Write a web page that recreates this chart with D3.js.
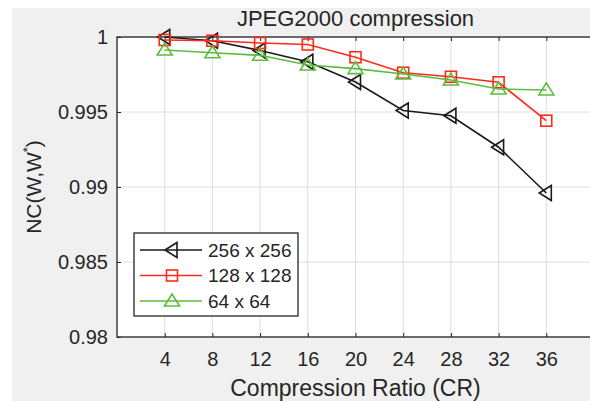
<!DOCTYPE html>
<html>
<head>
<meta charset="utf-8">
<script src="https://cdn.jsdelivr.net/npm/d3@7"></script>
<style>
  body { margin: 0; background: #fff; }
  text { font-family: "Liberation Sans", Arial, sans-serif; fill: #262626; }
</style>
</head>
<body>
<div id="chart"></div>
<script>
const ratios = [4, 8, 12, 16, 20, 24, 28, 32, 36];
const nc256 = [1.0000, 0.99975, 0.9991, 0.99835, 0.9970, 0.9951, 0.99475, 0.99265, 0.9896];
const nc128 = [0.9998, 0.99975, 0.9996, 0.9995, 0.99865, 0.99762, 0.99735, 0.99698, 0.99442];
const nc64 = [0.99913, 0.99895, 0.99878, 0.99813, 0.99789, 0.99753, 0.99713, 0.99653, 0.99647];
const seriesNames = ["256 x 256", "128 x 128", "64 x 64"];
const yTicks = [0.98, 0.985, 0.99, 0.995, 1];

const W = 590, H = 401;
const pLeft = 117, pRight = 594, pTop = 37, pBottom = 337;

const svg = d3.select("#chart").append("svg")
  .attr("width", W).attr("height", H);

svg.append("rect").attr("x", 12).attr("y", 8)
  .attr("width", W - 12).attr("height", H - 8).attr("fill", "#f0f0f0");

const x = d3.scaleLinear().domain([0, 40]).range([pLeft, pRight]);
const y = d3.scaleLinear().domain([0.98, 1]).range([pBottom, pTop]);

svg.append("rect").attr("x", pLeft).attr("y", pTop)
  .attr("width", pRight - pLeft).attr("height", pBottom - pTop).attr("fill", "#fff");

// grid
svg.append("g").selectAll("line").data(ratios).join("line")
  .attr("x1", d => x(d)).attr("x2", d => x(d))
  .attr("y1", pTop).attr("y2", pBottom)
  .attr("stroke", "#dedede").attr("stroke-width", 1);
svg.append("g").selectAll("line").data(yTicks).join("line")
  .attr("x1", pLeft).attr("x2", pRight)
  .attr("y1", d => y(d)).attr("y2", d => y(d))
  .attr("stroke", "#dedede").attr("stroke-width", 1);

// axes
const xAxis = svg.append("g").attr("transform", `translate(0,${pBottom})`)
  .call(d3.axisBottom(x).tickValues(ratios).tickSizeInner(-4).tickSizeOuter(0).tickPadding(15));
const xAxisTop = svg.append("g").attr("transform", `translate(0,${pTop})`)
  .call(d3.axisTop(x).tickValues(ratios).tickSizeInner(-4).tickSizeOuter(0).tickFormat(""));
const yAxis = svg.append("g").attr("transform", `translate(${pLeft},0)`)
  .call(d3.axisLeft(y).tickValues(yTicks).tickFormat(d => d3.format("")(+d.toFixed(3)))
    .tickSizeInner(-4).tickSizeOuter(0).tickPadding(9));
const yAxisRight = svg.append("g").attr("transform", `translate(${pRight},0)`)
  .call(d3.axisRight(y).tickValues(yTicks).tickSizeInner(-4).tickSizeOuter(0).tickFormat(""));

[xAxis, xAxisTop, yAxis, yAxisRight].forEach(g => {
  g.select(".domain").remove();
  g.selectAll("line").attr("stroke", "#262626");
  g.selectAll("text").style("font-size", "20px").attr("fill", "#262626");
});
xAxis.selectAll("text").attr("dy", "0.71em");

svg.append("rect").attr("x", pLeft).attr("y", pTop)
  .attr("width", pRight - pLeft).attr("height", pBottom - pTop)
  .attr("fill", "none").attr("stroke", "#262626").attr("stroke-width", 1.3);

// series
const series = [
  { name: seriesNames[0], values: nc256, color: "#1a1a1a", marker: "left" },
  { name: seriesNames[1], values: nc128, color: "#ff2a1a", marker: "square" },
  { name: seriesNames[2], values: nc64, color: "#5cbd3c", marker: "up" }
];

const line = d3.line().x((d, i) => x(ratios[i])).y(d => y(d));

function marker(g, type, color) {
  if (type === "square") {
    g.append("rect").attr("x", -5.5).attr("y", -5.5).attr("width", 11).attr("height", 11)
      .attr("fill", "none").attr("stroke", color).attr("stroke-width", 1.6);
  } else if (type === "up") {
    g.append("path").attr("d", "M0,-7L7.5,5L-7.5,5Z")
      .attr("fill", "none").attr("stroke", color).attr("stroke-width", 1.6);
  } else {
    g.append("path").attr("d", "M-7,0L5,-7.5L5,7.5Z")
      .attr("fill", "none").attr("stroke", color).attr("stroke-width", 1.6);
  }
}

series.forEach(s => {
  svg.append("path").datum(s.values)
    .attr("d", line).attr("fill", "none")
    .attr("stroke", s.color).attr("stroke-width", 1.6);
  svg.append("g").selectAll("g").data(s.values).join("g")
    .attr("transform", (d, i) => `translate(${x(ratios[i])},${y(d)})`)
    .each(function () { marker(d3.select(this), s.marker, s.color); });
});

// title and labels
svg.append("text").attr("x", (pLeft + pRight) / 2).attr("y", 26)
  .attr("text-anchor", "middle").style("font-size", "22px")
  .text("JPEG2000 compression");

svg.append("text").attr("x", (pLeft + pRight) / 2).attr("y", 396)
  .attr("text-anchor", "middle").style("font-size", "23px")
  .text("Compression Ratio (CR)");

const yl = svg.append("text")
  .attr("transform", `translate(41,${(pTop + pBottom) / 2}) rotate(-90)`)
  .attr("text-anchor", "middle").style("font-size", "21px");
yl.append("tspan").text("NC(W,W");
yl.append("tspan").attr("dy", -9).style("font-size", "13px").text("*");
yl.append("tspan").attr("dy", 9).text(")");

// legend
const lg = svg.append("g").attr("transform", "translate(134,233)");
lg.append("rect").attr("width", 164).attr("height", 83)
  .attr("fill", "#fff").attr("stroke", "#262626").attr("stroke-width", 1.3);
series.forEach((s, i) => {
  const row = lg.append("g").attr("transform", `translate(0,${17 + i * 25.5})`);
  row.append("line").attr("x1", 6).attr("x2", 68)
    .attr("stroke", s.color).attr("stroke-width", 1.6);
  marker(row.append("g").attr("transform", "translate(38,0)"), s.marker, s.color);
  row.append("text").attr("x", 74).attr("dy", "0.35em")
    .style("font-size", "19px").text(s.name);
});
</script>
</body>
</html>
